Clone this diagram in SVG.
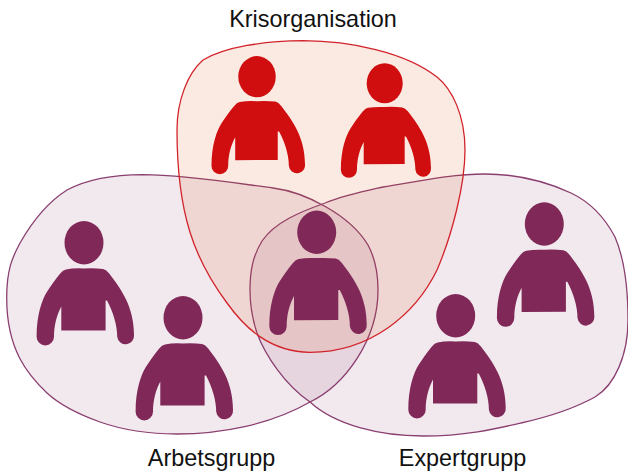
<svg xmlns="http://www.w3.org/2000/svg" width="628" height="471" viewBox="0 0 628 471">
<style>
.blob{stroke-width:1.3;stroke-linejoin:round}
.pf{fill:#80285a;fill-opacity:.1;stroke:#8a3f70}
.rf{fill:#de500d;fill-opacity:.12;stroke:#d2232a}
.purple{fill:#802858}
.red{fill:#d00d0f}
text{font-family:"Liberation Sans",Arial,sans-serif;font-size:23.4px;fill:#111;text-anchor:middle}
</style>
<defs>
<g id="person">
<ellipse cx="0" cy="0" rx="19.5" ry="21.7"/>
<path d="M-18,26.7 Q-10,25.2 0,25.8 Q10,25.2 19,26.2 Q22,26.6 25,30.5 C37,46 50,64 50,92 A8.4,8.6 0 0 1 33.2,94 C33.2,82 29,69 23,57.7 L21.6,57.7 L21.6,87.7 L-22.7,87.9 L-22.7,63.7 C-27,72 -30,82 -30,94 A8.7,8.7 0 0 1 -47.4,94 C-47.4,72 -42,57 -37,49 C-33,43 -29,37 -24,31 Q-21,27 -18,26.7Z"/>
</g>
</defs>
<g id="connectors"></g>
<g id="group-arbetsgrupp">
<path class="blob pf" d="M143,174.7 C185,175 235,183 273,188 C305,192 350,215 368,245 C375,258 378,274 378,290 C378,340 345,385 310,402 C270,425 220,434 177,434 C145,434 120,429 100,422 C75,413 60,405 47,393 C28,375 6.7,350 6.7,298 C6.7,270 12,258 20,243 C32,222 48,202 67,190 C90,178 120,174.7 143,174.7Z"/>
<text x="211.5" y="466">Arbetsgrupp</text>
</g>
<g id="group-expertgrupp">
<path class="blob pf" d="M485,174 C515,174 545,181 571,193 C590,202 605,218 615,237 C624,258 628,290 628,320 C628,355 615,385 595,397 C575,408 548,417 521,423 C495,429 465,436 423,436 C380,436 335,425 310,402 C285,385 265,355 257,333 C252,318 250,305 250,290 C250,270 253,256 262,241 C275,222 300,212 325,203 C345,195 365,191 383,187 C415,182 450,174 485,174Z"/>
<text x="462.5" y="466">Expertgrupp</text>
</g>
<g id="group-krisorganisation">
<path class="blob rf" d="M303,40.7 C350,41 405,52 437,77 C452,89 465,115 465,150 C465,185 452,235 437,270 C415,315 370,352 310,352.3 C270,352 245,328 227,303 C195,260 177,215 177,130 C177,100 188,73 203,60 C225,47 265,40.7 303,40.7Z"/>
<text x="313" y="27">Krisorganisation</text>
</g>
<g id="person-k1" class="red"><use href="#person" transform="translate(257,76.7) scale(.96,.95)"/></g>
<g id="person-k2" class="red"><use href="#person" transform="translate(384.7,83.3) scale(.925,.92)"/></g>
<g id="person-a1" class="purple"><use href="#person" transform="translate(84,242.7)"/></g>
<g id="person-a2" class="purple"><use href="#person" transform="translate(183,317.7)"/></g>
<g id="person-e1" class="purple"><use href="#person" transform="translate(544.3,224)"/></g>
<g id="person-e2" class="purple"><use href="#person" transform="translate(455.7,315.7)"/></g>
<g id="person-center" class="purple"><use href="#person" transform="translate(316.7,232.3)"/></g>
</svg>
